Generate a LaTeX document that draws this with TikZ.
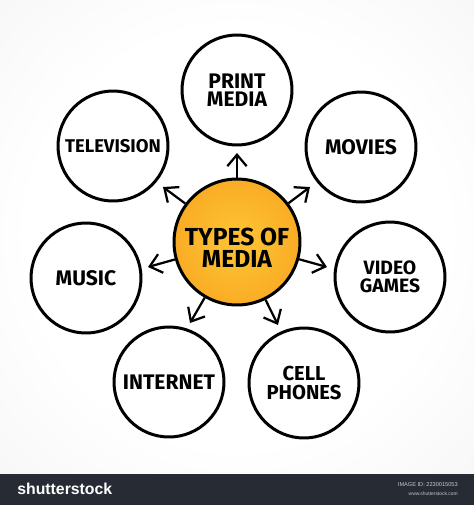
\documentclass[tikz,border=0pt]{standalone}
\usepackage{fontspec}
\usetikzlibrary{arrows.meta}
\newfontfamily\hand{Fira Sans}
\newfontfamily\logo{Liberation Sans}
\definecolor{bggray}{HTML}{E4E4E4}
\definecolor{orIn}{HTML}{FDBE30}
\definecolor{orOut}{HTML}{F39214}
\definecolor{barcol}{HTML}{272B33}
\definecolor{idgray}{HTML}{C8CBD0}
\pgfdeclareradialshading{bgsh}{\pgfpoint{0bp}{0bp}}{color(0bp)=(white); color(22bp)=(white); color(71bp)=(bggray)}
\pgfdeclareradialshading{orsh}{\pgfpoint{0bp}{0bp}}{color(0bp)=(orIn); color(8bp)=(orIn); color(50bp)=(orOut)}
\tikzset{
  bubble/.style={circle, draw=black, line width=0.06cm, minimum size=2.2cm,
    inner sep=0pt, align=center, text=black},
  hub/.style={circle, draw=black, line width=0.06cm, minimum size=2.52cm,
    inner sep=0pt, shade, shading=orsh},
  arr/.style={line width=0.045cm, -{Straight Barb[length=6.5pt,width=11pt,line width=0.045cm]}},
  capsA/.style={font=\hand\bfseries\fontsize{12}{10.6}\selectfont},
  capsB/.style={font=\hand\bfseries\fontsize{10.5}{10}\selectfont}
}
\begin{document}
\begin{tikzpicture}[x=0.02cm,y=-0.02cm]
\useasboundingbox (0,0) rectangle (474,505);
\shade[shading=bgsh] (0,0) rectangle (474,474);
\fill[barcol] (0,474) rectangle (474,505);

% central hub
\node[hub] (c) at (237,242) {};
\node[align=center, inner sep=0pt, text=black, font=\hand\bfseries\fontsize{14}{12.8}\selectfont] (ctext) at (237,248) {TYPES OF\\MEDIA};

% outer bubbles
\node[bubble, capsA] (pm) at (237,90) {PRINT\\MEDIA};
\node[bubble, capsB] (tv) at (113,146) {TELEVISION};
\node[bubble, capsA] (mv) at (361,147) {MOVIES};
\node[bubble, capsA] (mu) at (86,278) {MUSIC};
\node[bubble, font=\hand\bfseries\fontsize{11}{10}\selectfont] (vg) at (390,277) {VIDEO\\GAMES};
\node[bubble, capsA] (in) at (169,382) {INTERNET};
\node[bubble, font=\hand\bfseries\fontsize{11.5}{10.4}\selectfont] (cp) at (304,383) {CELL\\PHONES};

% arrow tips
\coordinate (tpm) at (237,153);
\coordinate (ttv) at (163,187);
\coordinate (tmv) at (310,187);
\coordinate (tmu) at (148,267);
\coordinate (tvg) at (327,267);
\coordinate (tin) at (190,323);
\coordinate (tcp) at (278,325);

\foreach \t in {tpm,ttv,tmv,tmu,tvg,tin,tcp}
  \draw[arr] (c) -- (\t);

% footer bar
\node[anchor=west, inner sep=0pt, text=white, font=\logo\bfseries\fontsize{9}{10}\selectfont] (brand) at (17,489) {shutterstock};
\node[anchor=east, inner sep=0pt, text=idgray, font=\logo\fontsize{3.2}{4}\selectfont] (imgid) at (458,485) {IMAGE ID: 2230015053};
\node[anchor=east, inner sep=0pt, text=idgray, font=\logo\fontsize{2.8}{4}\selectfont] (site) at (458,494) {www.shutterstock.com};
\end{tikzpicture}
\end{document}
